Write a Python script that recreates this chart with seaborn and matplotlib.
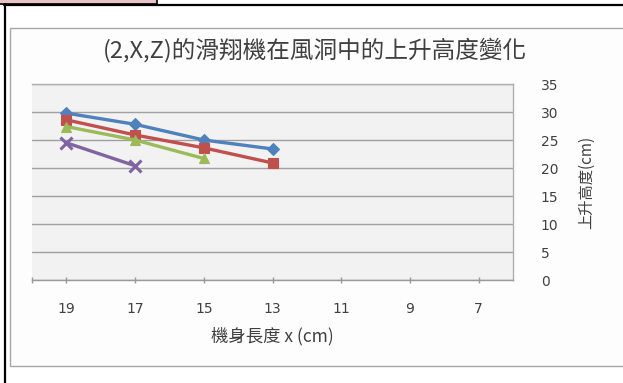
import matplotlib
matplotlib.use("Agg")
import matplotlib.pyplot as plt
import matplotlib.patches as mpatches
from matplotlib.lines import Line2D
import seaborn as sns
import pandas as pd

# ---- data ----
categories = ["19", "17", "15", "13", "11", "9", "7"]
series_a = [29.8, 27.8, 25.0, 23.4]   # blue, diamond
series_b = [28.6, 25.9, 23.6, 20.9]   # red, square
series_c = [27.4, 25.0, 21.7]         # green, triangle
series_d = [24.5, 20.4]               # purple, x
y_ticks = [0, 5, 10, 15, 20, 25, 30, 35]

title = "(2,X,Z)的滑翔機在風洞中的上升高度變化"
xlabel = "機身長度 x (cm)"
ylabel = "上升高度(cm)"

sns.set_theme(style="white")
plt.rcParams["font.family"] = ["Noto Sans CJK TC", "DejaVu Sans"]

W, H = 623, 383
fig = plt.figure(figsize=(W / 100, H / 100), dpi=100)
fig.patch.set_facecolor("white")

def fx(px):
    return px / W

def fy(py):
    return 1 - py / H

# page decorations
fig.add_artist(mpatches.Rectangle((fx(10), fy(366)), fx(640) - fx(10), fy(28) - fy(366),
                                  transform=fig.transFigure, facecolor="#FDFDFD",
                                  edgecolor="#A6A6A6", linewidth=1.0, zorder=0))
fig.add_artist(mpatches.Rectangle((fx(-2), fy(4)), fx(157) - fx(-2), fy(-2) - fy(4),
                                  transform=fig.transFigure, facecolor="#E9C4C4",
                                  edgecolor="black", linewidth=1.2, zorder=1))
fig.add_artist(Line2D([fx(4), 1.0], [fy(4.5), fy(4.5)], transform=fig.transFigure,
                      color="black", linewidth=1.6, zorder=2))
fig.add_artist(Line2D([fx(4.5), fx(4.5)], [fy(4), 0.0], transform=fig.transFigure,
                      color="black", linewidth=1.6, zorder=2))

ax = fig.add_axes([fx(32), fy(280), fx(513) - fx(32), fy(84) - fy(280)])
ax.set_facecolor("#F2F2F2")

specs = [
    (series_a, "#4F81BD", "D", 6.5),
    (series_b, "#C0504D", "s", 7.0),
    (series_c, "#9BBB59", "^", 7.5),
    (series_d, "#8064A2", "x", 8.0),
]
for vals, color, marker, ms in specs:
    df = pd.DataFrame({"x": categories[:len(vals)], "y": vals})
    sns.pointplot(data=df, x="x", y="y", order=categories, color=color,
                  marker=marker, markersize=ms, linewidth=2.4,
                  markeredgewidth=2.2 if marker == "x" else 0.8,
                  errorbar=None, ax=ax, zorder=3)

ax.set_xlim(-0.5, len(categories) - 0.5)
ax.set_ylim(0, 35)
ax.set_yticks(y_ticks)
ax.yaxis.tick_right()
ax.yaxis.set_label_position("right")
ax.grid(axis="y", color="#A0A0A0", linewidth=1.0)
ax.grid(axis="x", visible=False)
ax.set_axisbelow(True)
for s in ax.spines.values():
    s.set_color("#B0B0B0")
    s.set_linewidth(1.0)
ax.spines["left"].set_visible(False)
ax.spines["bottom"].set_color("#999999")

ax.set_xticks(range(len(categories)))
ax.set_xticklabels(categories)
ax.set_xticks([-0.5], minor=True)
ax.tick_params(axis="x", which="both", direction="inout", length=5, width=1,
               color="#999999", labelsize=10, labelcolor="#404040", pad=13, bottom=True,
               labelfontfamily="DejaVu Sans")
ax.tick_params(axis="y", length=0, labelsize=10, labelcolor="#404040", pad=20,
               labelfontfamily="DejaVu Sans")

ax.set_xlabel(xlabel, fontsize=12.5, color="#404040", labelpad=8)
ax.set_ylabel(ylabel, fontsize=11, color="#404040", labelpad=14, rotation=90)

fig.text(fx(315), fy(50), title, ha="center", va="center", fontsize=17, color="#404040")

fig.savefig("out.png", dpi=100)
